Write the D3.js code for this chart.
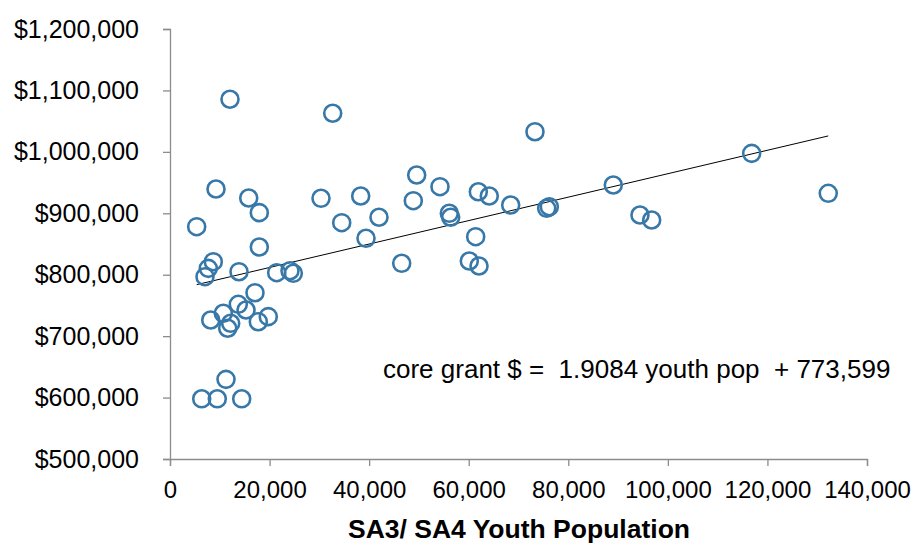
<!DOCTYPE html>
<html>
<head>
<meta charset="utf-8">
<script src="https://cdn.jsdelivr.net/npm/d3@7"></script>
<style>
  body { margin: 0; background: #fff; }
  svg { font-family: "Liberation Sans", Arial, sans-serif; }
</style>
</head>
<body>
<svg id="chart"></svg>
<script>
// youth population per region (x) and core grant in dollars (y)
const youthPop = [12050, 32680, 73310, 116840, 132220, 5360, 9240, 15810, 17940, 17940,
  8700, 7690, 7030, 13860, 21430, 24100, 24770, 17070, 13720, 15270,
  10710, 8180, 12190, 11590, 17740, 19740, 11250, 6370, 9500, 14400,
  30330, 38300, 34490, 41980, 39370, 49550, 48870, 54230, 56100, 56380,
  61930, 64130, 68430, 61400, 46540, 60120, 62070, 75660, 76190, 89040,
  94400, 96750];
const coreGrant = [1085600, 1062800, 1032800, 997600, 932500, 878200, 939500, 924900, 901000, 845100,
  821200, 810400, 796800, 804900, 803300, 806500, 802300, 770700, 751800, 742600,
  737200, 726300, 720900, 712800, 723500, 731700, 629700, 598000, 598000, 598000,
  924400, 928100, 884700, 893500, 859300, 962300, 920500, 943300, 900000, 893500,
  935100, 928100, 913500, 861900, 818600, 822300, 814200, 908100, 910700, 946000,
  897200, 889100];

const xTicks = [0, 20000, 40000, 60000, 80000, 100000, 120000, 140000];
const yTicks = [500000, 600000, 700000, 800000, 900000, 1000000, 1100000, 1200000];

// regression line: core grant $ = 1.9084 youth pop + 773,599
const slope = 1.9084;
const intercept = 773599;

const width = 917, height = 543;
const svg = d3.select("#chart").attr("width", width).attr("height", height);

const x = d3.scaleLinear().domain([0, 140000]).range([170, 867]);
const y = d3.scaleLinear().domain([500000, 1200000]).range([459, 29]);

const axisColor = "#8c8c8c";

// y axis
const yAxis = svg.append("g")
  .attr("transform", "translate(170,0)")
  .call(d3.axisLeft(y).tickValues(yTicks).tickSize(7).tickPadding(24)
    .tickFormat(d => "$" + d3.format(",")(d)));
yAxis.selectAll("text").style("font-size", "25px").attr("fill", "#000");

// x axis
const xAxis = svg.append("g")
  .attr("transform", "translate(0,459)")
  .call(d3.axisBottom(x).tickValues(xTicks).tickSize(7).tickPadding(15)
    .tickFormat(d3.format(",")));
xAxis.selectAll("text").style("font-size", "24px").attr("fill", "#000");

svg.selectAll(".domain, .tick line").attr("stroke", axisColor).attr("stroke-width", 1.3);

// axis title
svg.append("text")
  .attr("x", 519).attr("y", 538)
  .attr("text-anchor", "middle")
  .style("font-size", "26.5px").style("font-weight", "bold")
  .text("SA3/ SA4 Youth Population");

// trend line across the data range
const xMin = d3.min(youthPop), xMax = d3.max(youthPop);
svg.append("line")
  .attr("x1", x(xMin)).attr("y1", y(slope * xMin + intercept))
  .attr("x2", x(xMax)).attr("y2", y(slope * xMax + intercept))
  .attr("stroke", "#000").attr("stroke-width", 1);

// scatter points
svg.selectAll(".pt")
  .data(youthPop.map((v, i) => [v, coreGrant[i]]))
  .enter().append("circle")
  .attr("class", "pt")
  .attr("cx", d => x(d[0]))
  .attr("cy", d => y(d[1]))
  .attr("r", 8.5)
  .attr("fill", "none")
  .attr("stroke", "#3878a8")
  .attr("stroke-width", 2.6);

// equation label
svg.append("text")
  .attr("x", 383).attr("y", 378)
  .style("font-size", "26px")
  .style("white-space", "pre")
  .text("core grant $ =  1.9084 youth pop  + 773,599");
</script>
</body>
</html>
